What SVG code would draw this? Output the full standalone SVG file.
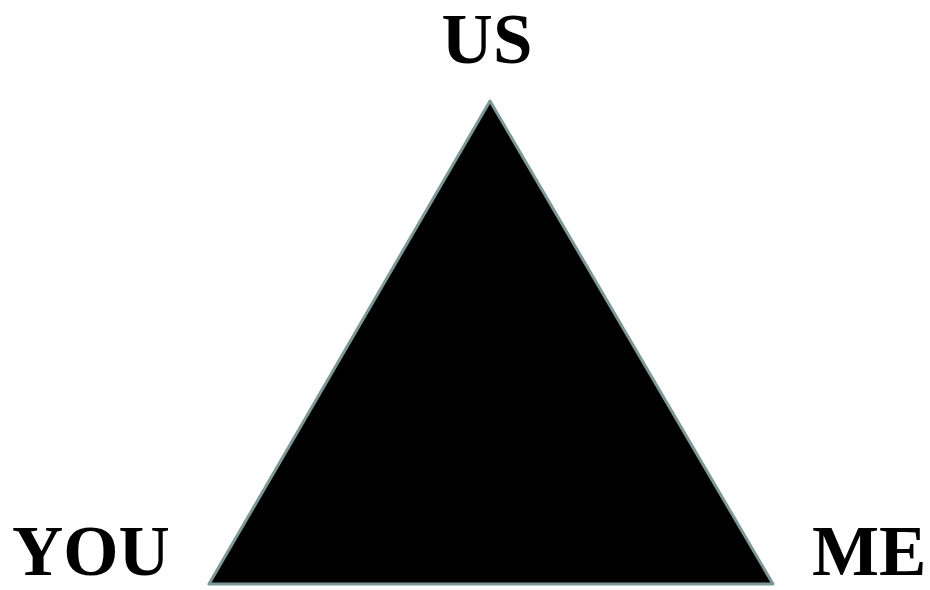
<svg xmlns="http://www.w3.org/2000/svg" width="930" height="590" viewBox="0 0 930 590">
<style>
.lbl{font-family:"Liberation Serif","DejaVu Serif",serif;font-weight:bold;font-size:71px;fill:#000}
.tri{fill:#000;stroke:#7f9797;stroke-width:3;stroke-linejoin:round}
</style>
<rect width="930" height="590" fill="#fff"/>
<g id="triangle"><polygon class="tri" points="490,101 209,584 773,584"/></g>
<g id="us"><text class="lbl" x="487" y="63" text-anchor="middle">US</text></g>
<g id="you"><text class="lbl" x="12" y="575">YOU</text></g>
<g id="me"><text class="lbl" x="812" y="575">ME</text></g>
</svg>
